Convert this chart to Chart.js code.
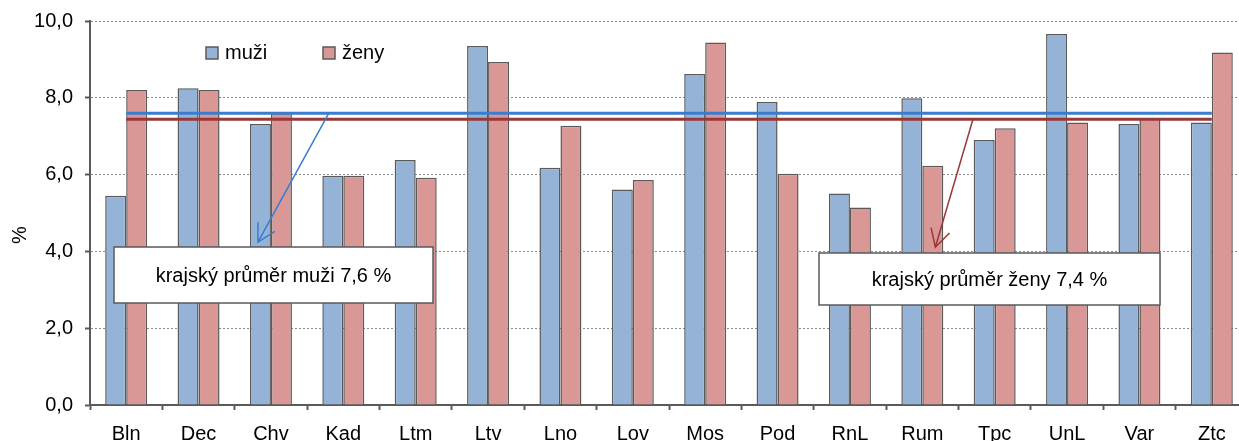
<!DOCTYPE html>
<html>
<head>
<meta charset="utf-8">
<script src="https://cdn.jsdelivr.net/npm/chart.js@4/dist/chart.umd.min.js"></script>
<style>
    html, body { margin: 0; padding: 0; background: #fff; overflow: hidden; }
    #wrap { width: 1239px; height: 441px; overflow: hidden; }
</style>
</head>
<body>
<div id="wrap"><canvas id="chart" width="1250" height="441"></canvas></div>
<script>
const categories = ['Bln', 'Dec', 'Chv', 'Kad', 'Ltm', 'Ltv', 'Lno', 'Lov', 'Mos', 'Pod', 'RnL', 'Rum', 'Tpc', 'UnL', 'Var', 'Ztc'];
const muzi = [5.45, 8.25, 7.32, 5.97, 6.38, 9.35, 6.18, 5.61, 8.62, 7.89, 5.51, 7.99, 6.90, 9.66, 7.32, 7.36];
const zeny = [8.20, 8.20, 7.60, 5.97, 5.92, 8.93, 7.27, 5.86, 9.44, 6.02, 5.14, 6.23, 7.21, 7.36, 7.45, 9.18];
const avgMuzi = 7.6;
const avgZeny = 7.44;
const yTicks = [0, 2, 4, 6, 8, 10];

const FONT = "'Liberation Sans', Arial, sans-serif";
const BLUE = '#95B3D7';
const PINK = '#D99795';
const EDGE = '#5a5a5a';
const LINE_BLUE = '#3A7DCE';
const LINE_RED = '#993836';

// legend, notes and arrows drawn by hand, like the excel original
const extrasPlugin = {
    id: 'extras',
    afterDraw(chart) {
        const ctx = chart.ctx;
        const x = chart.scales.x;
        const y = chart.scales.y;
        ctx.save();

        // legend inside plot
        ctx.font = '20px ' + FONT;
        ctx.textBaseline = 'middle';
        ctx.textAlign = 'left';
        [[206, BLUE, 'muži'], [323, PINK, 'ženy']].forEach(([lx, col, txt]) => {
            ctx.fillStyle = col;
            ctx.fillRect(lx, 47, 12, 12);
            ctx.strokeStyle = EDGE;
            ctx.lineWidth = 1.5;
            ctx.strokeRect(lx, 47, 12, 12);
            ctx.fillStyle = '#000';
            ctx.fillText(txt, lx + 19, 53);
        });

        // arrows from average lines to the notes
        function arrow(fromIdx, fromVal, toIdx, toVal, col) {
            const x1 = x.getPixelForValue(fromIdx), y1 = y.getPixelForValue(fromVal);
            const x2 = x.getPixelForValue(toIdx), y2 = y.getPixelForValue(toVal);
            ctx.strokeStyle = col;
            ctx.lineWidth = 1.5;
            ctx.beginPath();
            ctx.moveTo(x1, y1);
            ctx.lineTo(x2, y2);
            const a = Math.atan2(y2 - y1, x2 - x1);
            const len = 20, spread = 0.5;
            ctx.moveTo(x2 - len * Math.cos(a - spread), y2 - len * Math.sin(a - spread));
            ctx.lineTo(x2, y2);
            ctx.lineTo(x2 - len * Math.cos(a + spread), y2 - len * Math.sin(a + spread));
            ctx.stroke();
        }
        arrow(2.8, avgMuzi, 1.82, 4.24, LINE_BLUE);
        arrow(11.7, avgZeny, 11.18, 4.11, LINE_RED);

        // note boxes
        function note(bx, by, bw, bh, txt) {
            ctx.fillStyle = '#fff';
            ctx.fillRect(bx, by, bw, bh);
            ctx.strokeStyle = EDGE;
            ctx.lineWidth = 1.5;
            ctx.strokeRect(bx, by, bw, bh);
            ctx.fillStyle = '#000';
            ctx.font = '20px ' + FONT;
            ctx.textAlign = 'center';
            ctx.textBaseline = 'middle';
            ctx.fillText(txt, bx + bw / 2, by + bh / 2 + 1);
        }
        note(114, 247, 319, 56, 'krajský průměr muži 7,6 %');
        note(819, 253, 341, 52, 'krajský průměr ženy 7,4 %');

        // y title
        ctx.translate(20, 235);
        ctx.rotate(-Math.PI / 2);
        ctx.font = '20px ' + FONT;
        ctx.fillStyle = '#000';
        ctx.textAlign = 'center';
        ctx.textBaseline = 'middle';
        ctx.fillText('%', 0, 0);
        ctx.restore();
    }
};

const ctx = document.getElementById('chart').getContext('2d');
const chart = new Chart(ctx, {
    type: 'bar',
    data: {
        labels: categories,
        datasets: [
            {
                type: 'line',
                label: 'průměr muži',
                data: categories.map(() => avgMuzi),
                borderColor: LINE_BLUE,
                borderWidth: 3,
                pointRadius: 0,
                order: 0
            },
            {
                type: 'line',
                label: 'průměr ženy',
                data: categories.map(() => avgZeny),
                borderColor: LINE_RED,
                borderWidth: 3,
                pointRadius: 0,
                order: 0
            },
            {
                label: 'muži',
                data: muzi,
                backgroundColor: BLUE,
                borderColor: EDGE,
                borderWidth: 1.5,
                order: 1
            },
            {
                label: 'ženy',
                data: zeny,
                backgroundColor: PINK,
                borderColor: EDGE,
                borderWidth: 1.5,
                order: 1
            }
        ]
    },
    options: {
        responsive: false,
        animation: false,
        layout: { padding: { top: 21, right: 2, left: 0, bottom: 0 } },
        datasets: {
            bar: { categoryPercentage: 0.58, barPercentage: 1.0 }
        },
        scales: {
            x: {
                offset: true,
                afterFit: (scale) => {
                    scale.height = 36;
                    scale.paddingLeft = 0;
                    scale.paddingRight = 0;
                },
                grid: {
                    offset: true,
                    drawOnChartArea: false,
                    drawTicks: true,
                    tickLength: 5,
                    tickColor: EDGE,
                    tickWidth: 2
                },
                border: { color: EDGE, width: 2 },
                ticks: {
                    color: '#000',
                    font: { size: 20, family: FONT },
                    padding: 12,
                    maxRotation: 0,
                    autoSkip: false
                }
            },
            y: {
                min: 0,
                max: 10,
                afterFit: (scale) => {
                    scale.width = 90;
                    scale.paddingTop = 0;
                    scale.paddingBottom = 0;
                },
                afterBuildTicks: (scale) => { scale.ticks = yTicks.map(v => ({ value: v })); },
                grid: {
                    color: '#8a8a8a',
                    lineWidth: 1,
                    tickLength: 5,
                    tickColor: EDGE,
                    tickWidth: 2,
                    tickBorderDash: []
                },
                // in v4 the dash of the grid lines lives on border
                border: { color: EDGE, width: 2, dash: [2, 2] },
                ticks: {
                    color: '#000',
                    font: { size: 20, family: FONT },
                    padding: 12,
                    callback: (v) => v.toFixed(1).replace('.', ',')
                }
            }
        },
        plugins: {
            legend: { display: false },
            tooltip: { enabled: false }
        }
    },
    plugins: [extrasPlugin]
});
</script>
</body>
</html>
